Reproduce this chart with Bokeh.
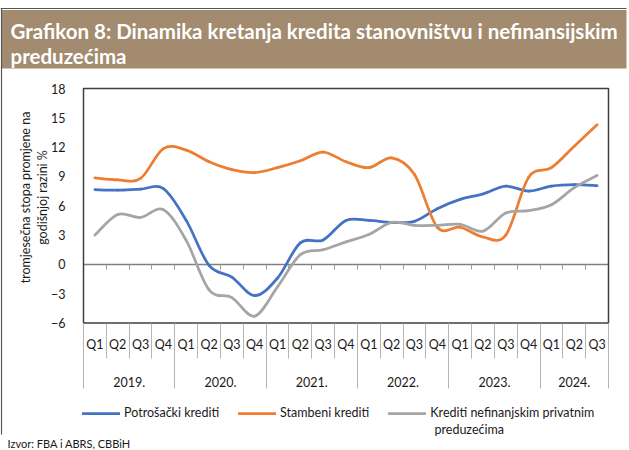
import numpy as np
from bokeh.plotting import figure
from bokeh.models import (Range1d, LinearAxis, FixedTicker, BoxAnnotation, Label,
                          Legend, LegendItem)
from bokeh.embed import file_html
from bokeh.resources import INLINE

# ---------------- data ----------------
years = ["2019.", "2020.", "2021.", "2022.", "2023.", "2024."]
quarters_per_year = [4, 4, 4, 4, 4, 3]
quarter_names = ["Q1", "Q2", "Q3", "Q4"]

potrosacki = [7.65, 7.6, 7.7, 7.75,
              4.5, -0.1, -1.3, -3.2,
              -1.4, 2.2, 2.5, 4.5,
              4.5, 4.3, 4.4, 5.7,
              6.65, 7.2, 8.0, 7.5,
              8.0, 8.15, 8.05]
stambeni = [8.85, 8.65, 8.8, 11.85,
            11.7, 10.5, 9.7, 9.4,
            9.9, 10.6, 11.5, 10.5,
            9.9, 10.9, 9.2, 3.8,
            3.8, 2.8, 3.0, 8.9,
            9.9, 12.1, 14.3]
nefinansijski = [3.0, 5.1, 4.8, 5.6,
                 2.45, -2.6, -3.4, -5.3,
                 -2.3, 1.0, 1.5, 2.3,
                 3.05, 4.3, 4.0, 4.0,
                 4.1, 3.4, 5.25, 5.5,
                 6.1, 7.85, 9.1]
y_ticks = [-6, -3, 0, 3, 6, 9, 12, 15, 18]

series_names = ["Potrošački krediti", "Stambeni krediti",
                "Krediti nefinanjskim privatnim"]
series_name_cont = "preduzećima"
series_colors = ["#4472C4", "#ED7D31", "#A5A5A5"]

title_lines = ["Grafikon 8: Dinamika kretanja kredita stanovništvu i nefinansijskim",
               "preduzećima"]
ylabel_lines = ["tromjesečna stopa promjene na", "godišnjoj razini %"]
source_text = "Izvor: FBA i ABRS, CBBiH"

# ---------------- layout (canvas pixels) ----------------
W, H = 629, 450
BOX_L, BOX_R, BOX_T, BOX_B = 83, 608, 88, 322.5
Y_MIN, Y_MAX = -6, 18
FONT = "Lato"
TXT = "#1a1a1a"

quarters = [q for cnt in quarters_per_year for q in quarter_names[:cnt]]
n = len(quarters)
xs_per_px = n / (BOX_R - BOX_L)
ys_per_px = (Y_MAX - Y_MIN) / (BOX_B - BOX_T)
x_range = Range1d(0 - BOX_L * xs_per_px, n + (W - BOX_R) * xs_per_px)
y_range = Range1d(Y_MIN - (H - BOX_B) * ys_per_px, Y_MAX + BOX_T * ys_per_px)


def X(px):
    return x_range.start + px * xs_per_px


def Y(py):
    return y_range.end - py * ys_per_px


p = figure(width=W, height=H, x_range=x_range, y_range=y_range, title=None,
           output_backend="svg", toolbar_location=None,
           x_axis_location=None, y_axis_location=None, min_border=0,
           outline_line_color=None, background_fill_color="white",
           border_fill_color="white")
p.grid.visible = False

# title bar
p.add_layout(BoxAnnotation(left=X(1), right=X(626), top=Y(9.5), bottom=Y(68),
                           fill_color="#A28B6E", fill_alpha=1.0,
                           line_color=None, level="underlay"))
for txt, mid in zip(title_lines, [30.5, 55]):
    p.add_layout(Label(x=X(10), y=Y(mid), text=txt, text_font=FONT,
                       text_font_style="bold", text_font_size="20.5px",
                       text_color="white", text_baseline="middle",
                       text_align="left"))

# outer frame lines (top and left)
p.segment(x0=[X(0), X(1)], y0=[Y(8), Y(8)], x1=[X(626), X(1)], y1=[Y(8), Y(434)],
          line_color="#555555", line_width=1.2)

# y axis title
for txt, cx in zip(ylabel_lines, [25, 42]):
    p.add_layout(Label(x=X(cx), y=Y(197), text=txt, angle=np.pi / 2,
                       text_font=FONT, text_font_size="12.5px",
                       text_color=TXT, text_align="center",
                       text_baseline="middle"))

# source
p.add_layout(Label(x=X(7), y=Y(443), text=source_text, text_font=FONT,
                   text_font_size="11px", text_color=TXT,
                   text_baseline="middle", text_align="left"))

# plot box
p.quad(left=0, right=n, bottom=Y_MIN, top=Y_MAX, fill_color=None,
       line_color="#3f3f3f", line_width=1.5)

# zero line with small ticks
zero_axis = LinearAxis(fixed_location=0, bounds=(0, n),
                       ticker=FixedTicker(ticks=list(range(1, n))),
                       axis_line_color="#808080", axis_line_width=1.5,
                       major_tick_in=0, major_tick_out=5,
                       major_tick_line_color="#999999",
                       minor_tick_line_color=None,
                       major_label_text_color=None, level="underlay")
p.add_layout(zero_axis, "below")

# y axis
yaxis = LinearAxis(fixed_location=0, ticker=FixedTicker(ticks=y_ticks),
                   axis_line_color=None, major_tick_line_color=None,
                   minor_tick_line_color=None, major_tick_in=0,
                   major_tick_out=0, major_label_standoff=18,
                   major_label_text_font=FONT,
                   major_label_text_font_size="12.5px",
                   major_label_text_color=TXT)
p.add_layout(yaxis, "left")

# category separators (quarters and years)
year_bounds = [0] + [int(v) for v in np.cumsum(quarters_per_year)]
q_sep = LinearAxis(fixed_location=Y_MIN, ticker=FixedTicker(ticks=list(range(0, n + 1))),
                   axis_line_color=None, major_tick_in=0, major_tick_out=35,
                   major_tick_line_color="#b5b5b5", minor_tick_line_color=None,
                   major_label_text_color=None)
p.add_layout(q_sep, "below")
y_sep = LinearAxis(fixed_location=Y_MIN, ticker=FixedTicker(ticks=year_bounds),
                   axis_line_color=None, major_tick_in=0, major_tick_out=65,
                   major_tick_line_color="#b5b5b5", minor_tick_line_color=None,
                   major_label_text_color=None)
p.add_layout(y_sep, "below")

# quarter labels
q_pos = [i + 0.5 for i in range(n)]
q_axis = LinearAxis(fixed_location=Y_MIN, ticker=FixedTicker(ticks=q_pos),
                    major_label_overrides={pos: q for pos, q in zip(q_pos, quarters)},
                    axis_line_color=None, major_tick_line_color=None,
                    minor_tick_line_color=None, major_tick_in=0, major_tick_out=0,
                    major_label_standoff=14, major_label_text_font=FONT,
                    major_label_text_font_size="12.5px",
                    major_label_text_color=TXT)
p.add_layout(q_axis, "below")

# year labels
yr_pos = [(a + b) / 2 for a, b in zip(year_bounds[:-1], year_bounds[1:])]
yr_axis = LinearAxis(fixed_location=Y_MIN, ticker=FixedTicker(ticks=yr_pos),
                     major_label_overrides={pos: yr for pos, yr in zip(yr_pos, years)},
                     axis_line_color=None, major_tick_line_color=None,
                     minor_tick_line_color=None, major_tick_in=0, major_tick_out=0,
                     major_label_standoff=54, major_label_text_font=FONT,
                     major_label_text_font_size="12.5px",
                     major_label_text_color=TXT)
p.add_layout(yr_axis, "below")


# smoothed series (Catmull-Rom style bezier segments, like Excel "smoothed line")
def smooth_segments(vals):
    xs = np.array(q_pos, dtype=float)
    ys = np.array(vals, dtype=float)
    m = len(ys)
    seg = dict(x0=[], y0=[], x1=[], y1=[], cx0=[], cy0=[], cx1=[], cy1=[])
    for i in range(m - 1):
        i0 = max(i - 1, 0)
        i3 = min(i + 2, m - 1)
        seg["x0"].append(xs[i]); seg["y0"].append(ys[i])
        seg["x1"].append(xs[i + 1]); seg["y1"].append(ys[i + 1])
        seg["cx0"].append(xs[i] + (xs[i + 1] - xs[i0]) / 6)
        seg["cy0"].append(ys[i] + (ys[i + 1] - ys[i0]) / 6)
        seg["cx1"].append(xs[i + 1] - (xs[i3] - xs[i]) / 6)
        seg["cy1"].append(ys[i + 1] - (ys[i3] - ys[i]) / 6)
    return seg


renderers = []
for vals, color in zip([potrosacki, stambeni, nefinansijski], series_colors):
    seg = smooth_segments(vals)
    r = p.bezier(line_color=color, line_width=2.75, line_cap="round", **seg)
    renderers.append(r)

legend = Legend(items=[LegendItem(label=name, renderers=[r])
                       for name, r in zip(series_names, renderers)],
                orientation="horizontal", location=(82, H - 420),
                glyph_width=38, glyph_height=14, label_standoff=4, spacing=19,
                padding=0, margin=0, border_line_color=None,
                background_fill_alpha=0, label_text_font=FONT,
                label_text_font_size="12.5px", label_text_color=TXT)
p.add_layout(legend, "center")
# second line of the third legend entry
p.add_layout(Label(x=X(434), y=Y(428.5), text=series_name_cont, text_font=FONT,
                   text_font_size="12.5px", text_color=TXT,
                   text_baseline="middle", text_align="left"))

open("out.html", "w").write(file_html(p, INLINE))
